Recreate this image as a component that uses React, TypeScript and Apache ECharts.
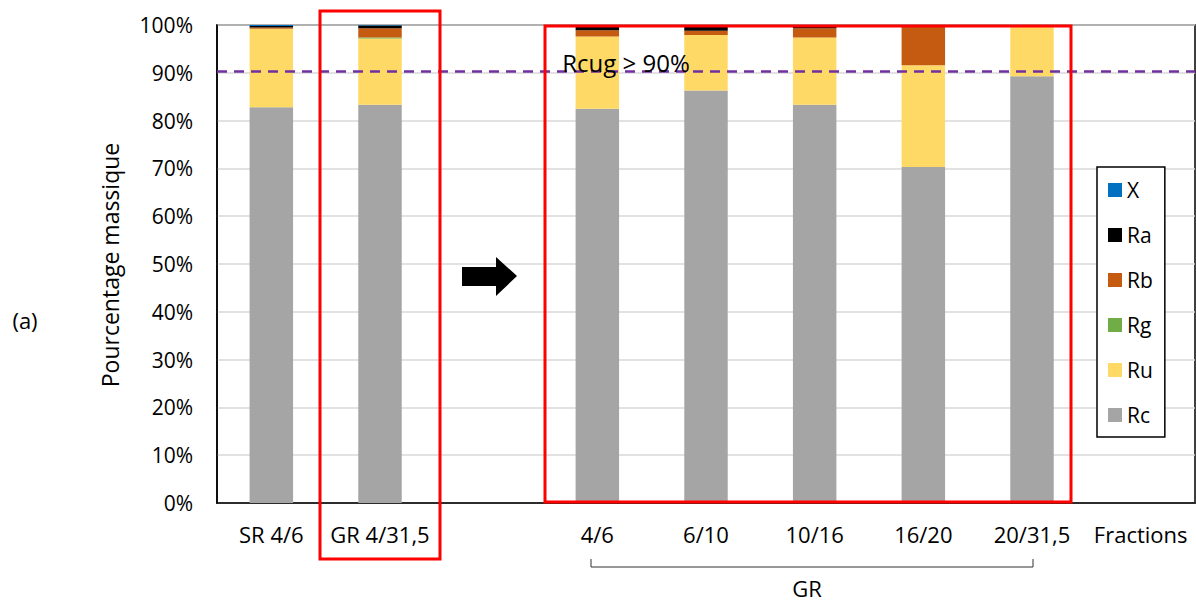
import React, { useEffect, useRef } from "react";
import * as echarts from "echarts";

const categories = ["SR 4/6", "GR 4/31,5", "", "4/6", "6/10", "10/16", "16/20", "20/31,5", "Fractions"];
const rcValues = [82.8, 83.3, null, 82.5, 86.3, 83.3, 70.3, 89.3, null];
const ruValues = [16.4, 13.9, null, 15.1, 11.6, 14.1, 21.3, 10.4, null];
const rgValues = [0, 0.2, null, 0, 0, 0, 0, 0, null];
const rbValues = [0.3, 1.9, null, 1.3, 0.9, 1.9, 8.0, 0, null];
const raValues = [0.3, 0.6, null, 0.8, 0.8, 0.3, 0, 0, null];
const xValues = [0.2, 0.1, null, 0, 0, 0, 0, 0, null];
const legendOrder = ["X", "Ra", "Rb", "Rg", "Ru", "Rc"];
const yTicks = { min: 0, max: 100, interval: 10 };
const thresholdValue = 90.3;
const thresholdLabel = "Rcug > 90%";

const FONT = "'Open Sans', sans-serif";

export default function App() {
  const ref = useRef<HTMLDivElement>(null);
  useEffect(() => {
    if (!ref.current) return;
    const chart = echarts.init(ref.current, null, { renderer: "svg" });
    const mk = (name: string, data: (number | null)[], color: string, extra: any = {}) => ({
      name,
      type: "bar",
      stack: "total",
      barWidth: "40%",
      data: data.map((v) => (v === null ? "-" : v)),
      itemStyle: { color },
      ...extra,
    });
    chart.setOption({
      animation: false,
      textStyle: { fontFamily: FONT },
      grid: {
        left: 217,
        right: 1,
        top: 25,
        bottom: 100,
        show: true,
        borderColor: "#000",
        borderWidth: 1.5,
      },
      legend: {
        orient: "vertical",
        left: 1097,
        top: 167,
        data: legendOrder,
        icon: "rect",
        itemWidth: 14,
        itemHeight: 14,
        itemGap: 21,
        padding: [11, 12, 10, 11],
        borderColor: "#000",
        borderWidth: 1.5,
        backgroundColor: "#fff",
        textStyle: { fontFamily: FONT, fontSize: 21, color: "#000", lineHeight: 24 },
      },
      xAxis: {
        type: "category",
        data: categories,
        axisTick: { show: false },
        axisLine: { lineStyle: { color: "#000", width: 1.5 } },
        axisLabel: { interval: 0, margin: 20, fontSize: 22, color: "#000", fontFamily: FONT },
      },
      yAxis: {
        type: "value",
        min: yTicks.min,
        max: yTicks.max,
        interval: yTicks.interval,
        axisLine: { show: true, lineStyle: { color: "#000", width: 1.5 } },
        axisTick: { show: false },
        axisLabel: { formatter: "{value}%", margin: 24, fontSize: 21, color: "#000", fontFamily: FONT },
        splitLine: { lineStyle: { color: "#d9d9d9", width: 1.5 } },
      },
      series: [
        mk("Rc", rcValues, "#A5A5A5"),
        mk("Ru", ruValues, "#FFD966"),
        mk("Rg", rgValues, "#70AD47"),
        mk("Rb", rbValues, "#C55A11"),
        mk("Ra", raValues, "#000000"),
        mk("X", xValues, "#0070C0", {
          markLine: {
            silent: true,
            symbol: "none",
            label: { show: false },
            lineStyle: { color: "#7030A0", width: 2.5, type: [10, 7] },
            data: [{ yAxis: thresholdValue }],
            z: 10,
          },
        }),
      ],
      graphic: [
        {
          type: "text",
          x: 626,
          y: 62,
          z: 20,
          style: { text: thresholdLabel, font: `24px ${FONT}`, fill: "#000", align: "center", verticalAlign: "middle" },
        },
        {
          type: "rect",
          z: 30,
          shape: { x: 320, y: 11, width: 120, height: 548 },
          style: { fill: "none", stroke: "#FF0000", lineWidth: 3 },
        },
        {
          type: "rect",
          z: 30,
          shape: { x: 545, y: 26, width: 526, height: 476 },
          style: { fill: "none", stroke: "#FF0000", lineWidth: 3 },
        },
        {
          type: "polygon",
          z: 20,
          shape: { points: [[462, 267], [496, 267], [496, 257], [517, 276], [496, 296], [496, 286], [462, 286]] },
          style: { fill: "#000" },
        },
        {
          type: "polyline",
          z: 20,
          shape: { points: [[591, 559], [591, 567], [1033, 567], [1033, 559]] },
          style: { stroke: "#333", lineWidth: 1, fill: "none" },
        },
        {
          type: "text",
          x: 807,
          y: 588,
          style: { text: "GR", font: `22px ${FONT}`, fill: "#000", align: "center", verticalAlign: "middle" },
        },
        {
          type: "text",
          x: 25,
          y: 320,
          style: { text: "(a)", font: `22px ${FONT}`, fill: "#000", align: "center", verticalAlign: "middle" },
        },
        {
          type: "text",
          x: 110,
          y: 265,
          rotation: Math.PI / 2,
          style: { text: "Pourcentage massique", font: `23px ${FONT}`, fill: "#000", align: "center", verticalAlign: "middle" },
        },
      ],
    });
    return () => chart.dispose();
  }, []);
  return <div ref={ref} style={{ position: "fixed", left: 0, top: 0, width: 1196, height: 603, background: "#fff" }} />;
}
